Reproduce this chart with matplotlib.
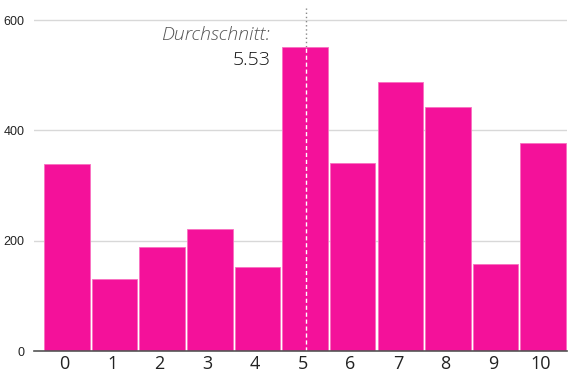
import matplotlib.pyplot as plt
import numpy as np

# daten
kategorien = [0, 1, 2, 3, 4, 5, 6, 7, 8, 9, 10]
anzahl = [339, 130, 189, 221, 153, 551, 341, 487, 442, 157, 378]
durchschnitt = 5.53
y_ticks = [0, 200, 400, 600]

farbe = '#f4119a'

fig = plt.figure(figsize=(5.82, 3.79), dpi=100)
ax = fig.add_axes([34/582, 28/379, 533/582, 343/379])

pos = np.array(kategorien) + 0.5
ax.bar(pos, anzahl, width=0.955, color=farbe, edgecolor='#f870c0', linewidth=0.6, zorder=2)

# durchschnittslinie
ax.axvline(durchschnitt, color='#888888', linestyle=(0, (1, 2)), linewidth=1, zorder=1)
ax.vlines(durchschnitt, 0, anzahl[5], color='white', linestyle=(0, (3, 2)), linewidth=1, zorder=3)

ax.text(5.0 - 0.23, 573, 'Durchschnitt:', ha='right', va='center', fontsize=14,
        family='Open Sans', style='italic', fontweight='light', color='#555555')
ax.text(5.0 - 0.23, 528, f'{durchschnitt:.2f}', ha='right', va='center', fontsize=14,
        family='Open Sans', fontweight='light', color='#111111')

ax.set_xlim(-0.19, 11.0)
ax.set_ylim(0, 622)
ax.set_xticks(pos - 0.05)
ax.set_xticklabels([str(k) for k in kategorien], family='Open Sans', fontsize=13, color='#222222')
ax.set_yticks(y_ticks)
ax.set_yticklabels([str(v) for v in y_ticks], family='Liberation Sans', fontsize=9, color='#222222')
ax.tick_params(axis='x', length=0, pad=3)
ax.tick_params(axis='y', length=0, pad=7)

ax.grid(axis='y', color='#d8d8d8', linewidth=1, zorder=0)
ax.set_axisbelow(True)
for s in ['top', 'right', 'left']:
    ax.spines[s].set_visible(False)
ax.spines['bottom'].set_color('#555555')
ax.spines['bottom'].set_linewidth(1.2)
ax.spines['bottom'].set_zorder(4)

fig.savefig('out.png', dpi=100)
